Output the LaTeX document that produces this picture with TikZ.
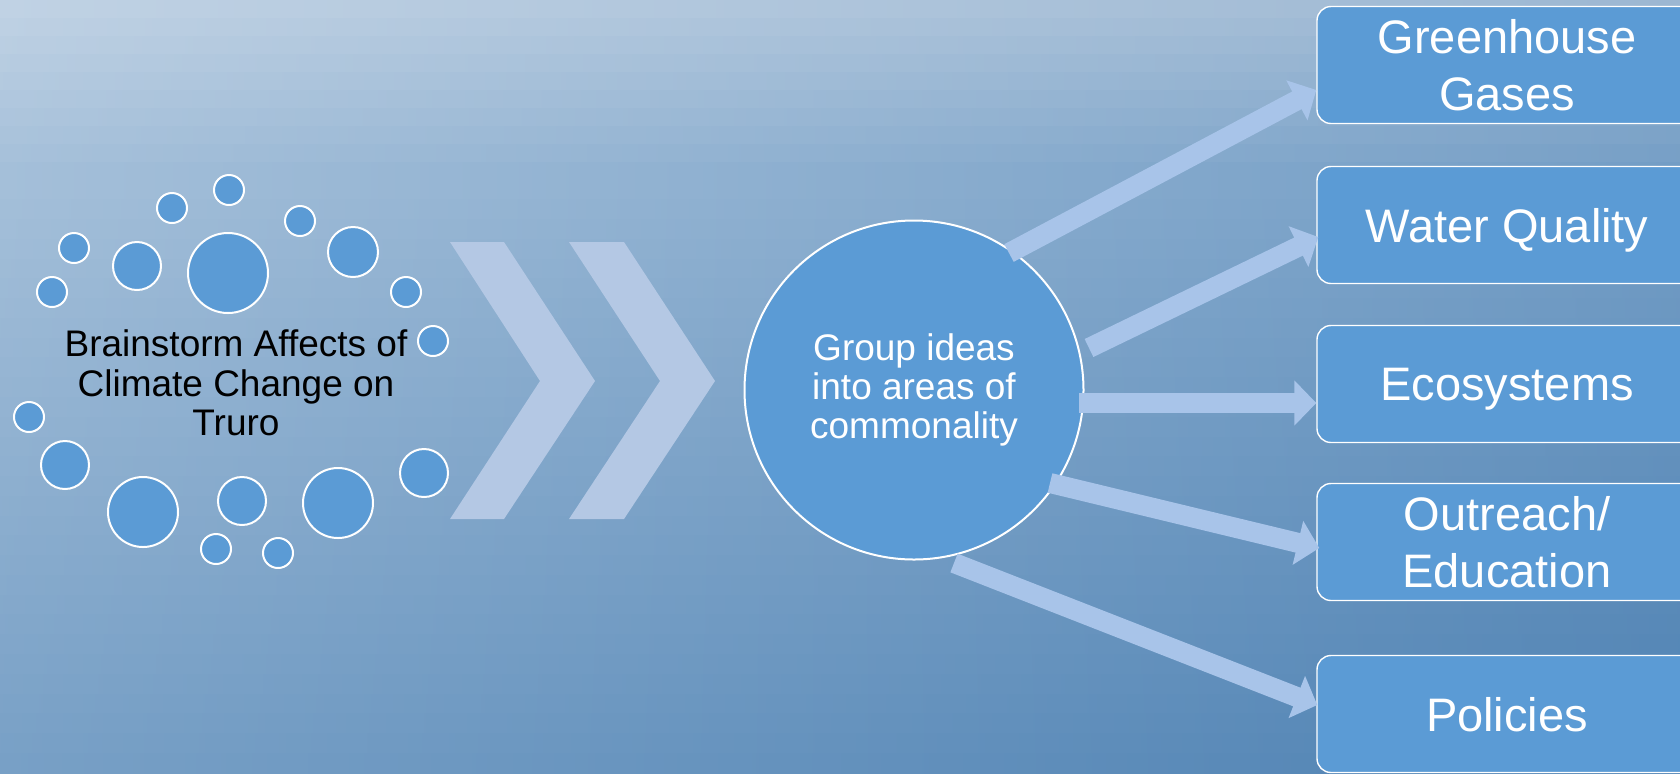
\documentclass[tikz,border=0pt]{standalone}
\usepackage{fontspec}
\setmainfont{Liberation Sans}
\usetikzlibrary{arrows.meta,calc}
\definecolor{TL}{HTML}{C0D2E4}
\definecolor{TR}{HTML}{9CB7D2}
\definecolor{ML}{HTML}{A4BFD9}
\definecolor{MR}{HTML}{739DC5}
\definecolor{BL}{HTML}{78A0C6}
\definecolor{BR}{HTML}{4F82B3}
\definecolor{acc}{HTML}{5B9BD5}
\definecolor{chv}{HTML}{B4C8E4}
\definecolor{arr}{HTML}{A8C4E9}
\begin{document}
\begin{tikzpicture}[x=0.5pt,y=-0.5pt,
  bubble/.style={circle, draw=white, line width=1pt, fill=acc, inner sep=0pt},
  topic/.style={rectangle, rounded corners=7pt, draw=white, line width=0.7pt, fill=acc,
    minimum width=190pt, minimum height=58.5pt, text=white, inner sep=0pt, text depth=0pt,
    font=\fontsize{23.5}{28.5}\selectfont, align=center},
  flow/.style={line width=10pt, draw=arr, -{Triangle[width=22pt,length=11pt]}},
  chev/.style={fill=chv}]
\useasboundingbox (0,0) rectangle (1680,773);
\clip (0,0) rectangle (1680,773);
% background
\foreach \i in {0,...,9}{
  \pgfmathsetmacro{\p}{\i*100/9}
  \colorlet{cl}{ML!\p!TL}
  \colorlet{cr}{MR!\p!TR}
  \shade[left color=cl, right color=cr] (0,{\i*18}) rectangle (1680,{(\i+1)*18+1});
}
\foreach \i in {0,...,29}{
  \pgfmathsetmacro{\p}{\i*100/29}
  \colorlet{cl}{BL!\p!ML}
  \colorlet{cr}{BR!\p!MR}
  \shade[left color=cl, right color=cr] (0,{180+\i*19.77}) rectangle (1680,{180+(\i+1)*19.77+1});
}
% chevrons
\fill[chev] (450,242) -- (504,242) -- (595,381) -- (504,519) -- (450,519) -- (540,381) -- cycle;
\fill[chev] (569,242) -- (624,242) -- (715,381) -- (624,519) -- (569,519) -- (660,381) -- cycle;
% bubbles
\foreach \x/\y/\r [count=\k] in {229/190/16, 172/208/16, 300/221/16, 74/248/16, 137/266/25,
   228/273/41, 353/252/26, 52/292/16, 406/292/16, 433/341/16, 29/417/16, 65/465/25,
   143/512/36, 242/501/25, 338/503/36, 424/473/25, 216/549/16, 278/553/16}{
  \node[bubble, minimum size={\r*1pt-1pt}] (b\k) at (\x,\y) {};
}
\node[align=center, font=\fontsize{18.5}{19.8}\selectfont, inner sep=0pt] (brain) at (236,383)
  {Brainstorm Affects of\\Climate Change on\\Truro};
% central circle
\node[circle, draw=white, line width=1pt, fill=acc, minimum size=169.5pt, inner sep=0pt,
  text=white, align=center, font=\fontsize{18.5}{19.3}\selectfont] (grp) at (914,390)
  {Group ideas\\into areas of\\commonality};
% topic boxes
\node[topic] (gh)  at (1507,65)  {Greenhouse\\Gases};
\node[topic] (wq)  at (1507,225) {Water Quality};
\node[topic] (eco) at (1507,384) {Ecosystems};
\node[topic] (out) at (1507,542) {Outreach/\\Education};
\node[topic] (pol) at (1507,714) {Policies};
% arrow ends
\coordinate (s1) at (1009,253);
\coordinate (s2) at (1089,348);
\coordinate (s3) at (1079,403);
\coordinate (s4) at (1050,483);
\coordinate (s5) at (954,563);
\draw[flow] (s1) -- ($(gh.west)+(0,25)$);
\draw[flow] (s2) -- ($(wq.west)+(2,12)$);
\draw[flow] (s3) -- ($(eco.west)+(0,19)$);
\draw[flow] (s4) -- ($(out.west)+(3,6)$);
\draw[flow] (s5) -- ($(pol.west)+(1,-9)$);
\end{tikzpicture}
\end{document}
